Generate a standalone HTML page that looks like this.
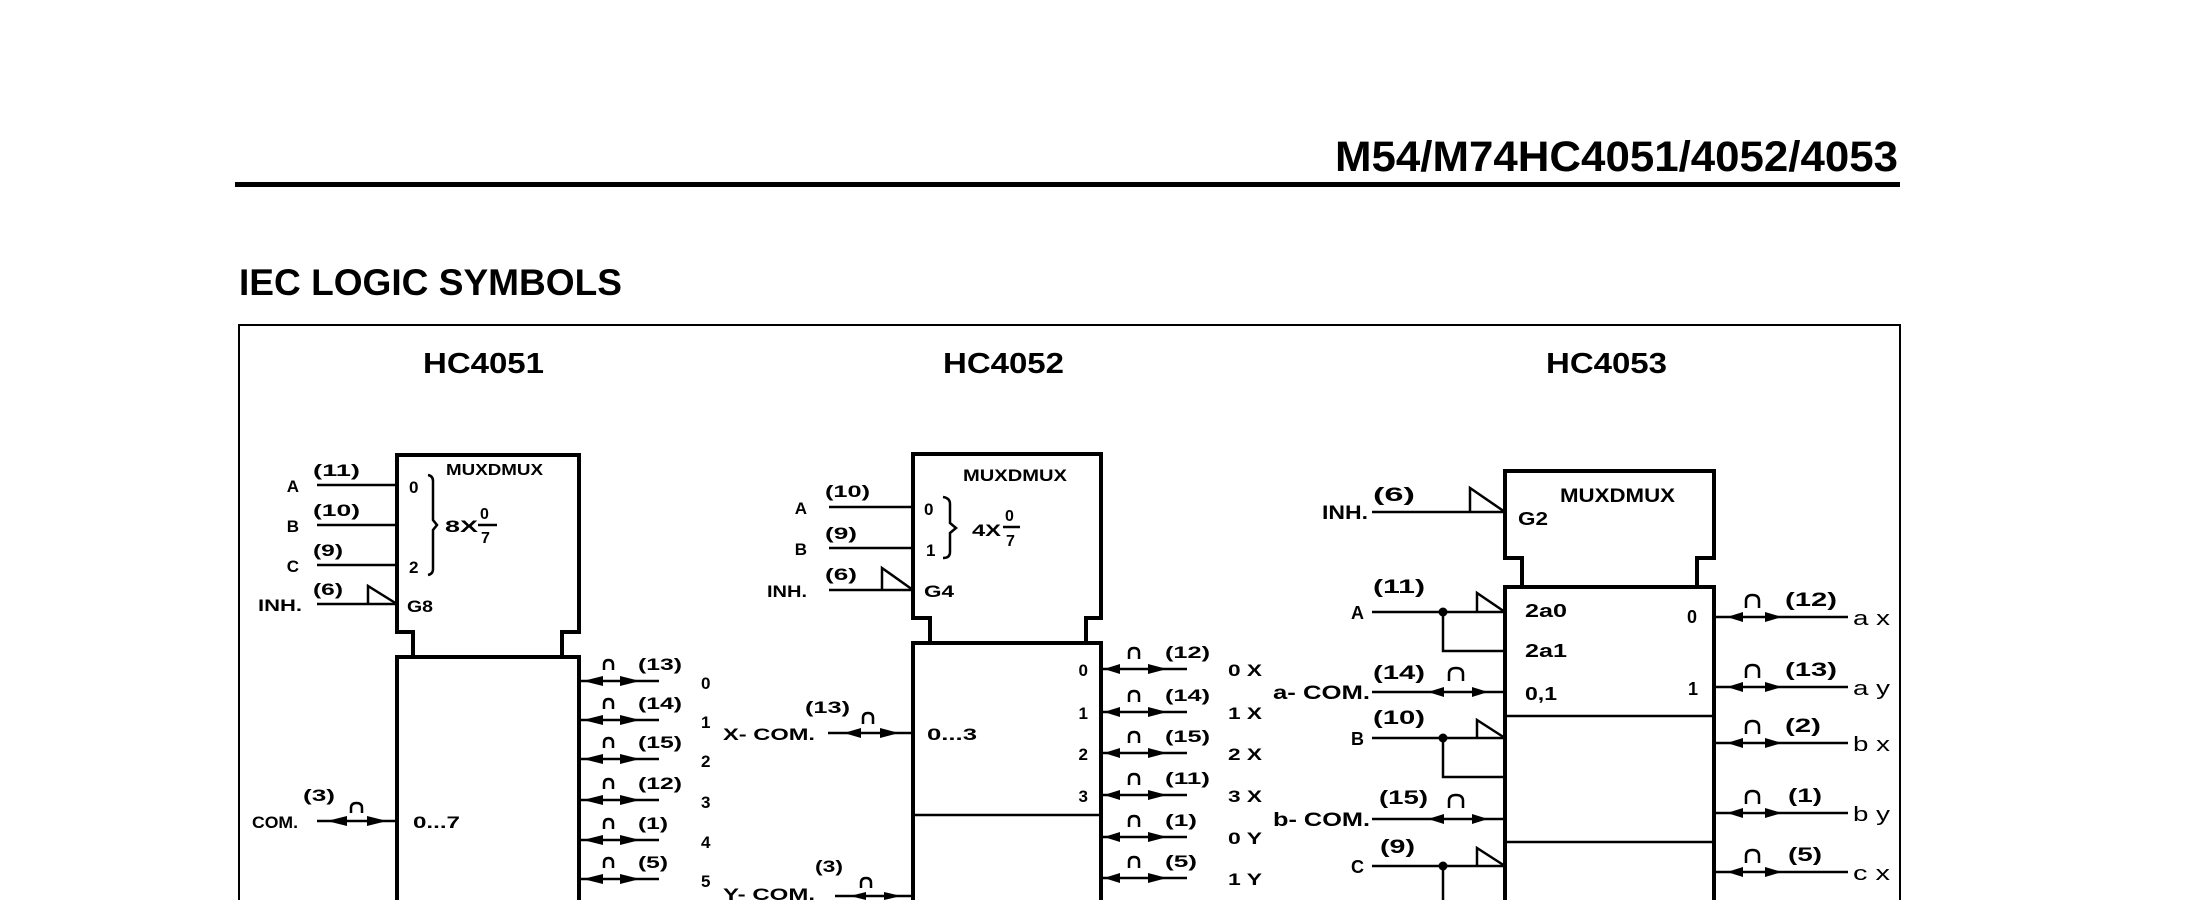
<!DOCTYPE html>
<html><head><meta charset="utf-8"><style>
html,body{margin:0;padding:0;background:#fff;overflow:hidden;width:2210px;height:900px}
svg{display:block}
text{font-family:"Liberation Sans",Arial,sans-serif;fill:#000;font-weight:bold}
.s{fill:none;stroke:#000;stroke-width:2.5}
.bx{fill:none;stroke:#000;stroke-width:4}
.a{fill:#000;stroke:none}
.n{font-weight:normal}
</style></head><body>
<svg width="2210" height="900" viewBox="0 0 2210 900" xmlns="http://www.w3.org/2000/svg">
<rect width="2210" height="900" fill="#fff"/>
<!-- header -->
<text x="1335" y="171" font-size="43" textLength="563" lengthAdjust="spacingAndGlyphs">M54/M74HC4051/4052/4053</text>
<rect x="235" y="182" width="1665" height="5" fill="#000"/>
<text x="239" y="295" font-size="37" textLength="383" lengthAdjust="spacingAndGlyphs">IEC LOGIC SYMBOLS</text>
<path d="M239 900 V325 H1900 V900" fill="none" stroke="#000" stroke-width="2"/>
<text x="423" y="373" font-size="29" textLength="121" lengthAdjust="spacingAndGlyphs">HC4051</text>
<text x="943" y="373" font-size="29" textLength="121" lengthAdjust="spacingAndGlyphs">HC4052</text>
<text x="1546" y="373" font-size="29" textLength="121" lengthAdjust="spacingAndGlyphs">HC4053</text>

<!-- ================= HC4051 ================= -->
<path class="bx" d="M413 657 V632 H397 V455 H579 V632 H562 V657"/>
<path class="bx" d="M397 900 V657 H579 V900"/>
<path class="s" d="M317 485 H397 M317 525 H397 M317 565 H397 M317 604 H397"/>
<path class="s" d="M368 604 V586 L397 604"/>
<text x="299" y="492" font-size="17" text-anchor="end">A</text>
<text x="299" y="532" font-size="17" text-anchor="end">B</text>
<text x="299" y="572" font-size="17" text-anchor="end">C</text>
<text x="258" y="611" font-size="17" textLength="44" lengthAdjust="spacingAndGlyphs">INH.</text>
<text x="313" y="476" font-size="17" textLength="47" lengthAdjust="spacingAndGlyphs">(11)</text>
<text x="313" y="516" font-size="17" textLength="47" lengthAdjust="spacingAndGlyphs">(10)</text>
<text x="313" y="556" font-size="17" textLength="30" lengthAdjust="spacingAndGlyphs">(9)</text>
<text x="313" y="595" font-size="17" textLength="30" lengthAdjust="spacingAndGlyphs">(6)</text>
<text x="409" y="493" font-size="17">0</text>
<text x="409" y="573" font-size="17">2</text>
<text x="407" y="612" font-size="17" textLength="26" lengthAdjust="spacingAndGlyphs">G8</text>
<path class="s" d="M428 475 Q433 476 433 481 V520 L437 525 L433 530 V569 Q433 574 428 575"/>
<text x="445" y="532" font-size="17" textLength="33" lengthAdjust="spacingAndGlyphs">8X</text>
<text x="480" y="519" font-size="16">0</text>
<path class="s" d="M478 525 H497" stroke-width="2"/>
<text x="481" y="543" font-size="16">7</text>
<text x="446" y="475" font-size="16" textLength="97" lengthAdjust="spacingAndGlyphs">MUXDMUX</text>
<text x="413" y="828" font-size="17" textLength="47" lengthAdjust="spacingAndGlyphs">0...7</text>
<path class="s" d="M317 821 H397"/>
<polygon class="a" points="327,821 347,816 347,826"/>
<polygon class="a" points="387,821 367,816 367,826"/>
<text x="252" y="828" font-size="17" textLength="46" lengthAdjust="spacingAndGlyphs">COM.</text>
<text x="303" y="801" font-size="17" textLength="32" lengthAdjust="spacingAndGlyphs">(3)</text>
<path class="s" d="M351 813 V808 Q351 803 356.5 803 Q362 803 362 808 V813"/>
<!-- outputs 4051 -->
<path class="s" d="M579 681 H659 M579 720 H659 M579 759 H659 M579 800 H659 M579 840 H659 M579 879 H659"/>
<polygon class="a" points="583,681 603,676 603,686"/><polygon class="a" points="640,681 620,676 620,686"/>
<polygon class="a" points="583,720 603,715 603,725"/><polygon class="a" points="640,720 620,715 620,725"/>
<polygon class="a" points="583,759 603,754 603,764"/><polygon class="a" points="640,759 620,754 620,764"/>
<polygon class="a" points="583,800 603,795 603,805"/><polygon class="a" points="640,800 620,795 620,805"/>
<polygon class="a" points="583,840 603,835 603,845"/><polygon class="a" points="640,840 620,835 620,845"/>
<polygon class="a" points="583,879 603,874 603,884"/><polygon class="a" points="640,879 620,874 620,884"/>
<path class="s" d="M604 670 V665 Q604 660 608.5 660 Q613 660 613 665 V670"/>
<path class="s" d="M604 709 V704 Q604 699 608.5 699 Q613 699 613 704 V709"/>
<path class="s" d="M604 748 V743 Q604 738 608.5 738 Q613 738 613 743 V748"/>
<path class="s" d="M604 789 V784 Q604 779 608.5 779 Q613 779 613 784 V789"/>
<path class="s" d="M604 829 V824 Q604 819 608.5 819 Q613 819 613 824 V829"/>
<path class="s" d="M604 868 V863 Q604 858 608.5 858 Q613 858 613 863 V868"/>
<text x="638" y="670" font-size="17" textLength="44" lengthAdjust="spacingAndGlyphs">(13)</text>
<text x="638" y="709" font-size="17" textLength="44" lengthAdjust="spacingAndGlyphs">(14)</text>
<text x="638" y="748" font-size="17" textLength="44" lengthAdjust="spacingAndGlyphs">(15)</text>
<text x="638" y="789" font-size="17" textLength="44" lengthAdjust="spacingAndGlyphs">(12)</text>
<text x="638" y="829" font-size="17" textLength="30" lengthAdjust="spacingAndGlyphs">(1)</text>
<text x="638" y="868" font-size="17" textLength="30" lengthAdjust="spacingAndGlyphs">(5)</text>
<text x="701" y="689" font-size="17">0</text>
<text x="701" y="728" font-size="17">1</text>
<text x="701" y="767" font-size="17">2</text>
<text x="701" y="808" font-size="17">3</text>
<text x="701" y="848" font-size="17">4</text>
<text x="701" y="887" font-size="17">5</text>

<!-- ================= HC4052 ================= -->
<path class="bx" d="M930 643 V618 H913 V454 H1101 V618 H1086 V643"/>
<path class="bx" d="M913 900 V643 H1101 V900"/>
<path class="s" d="M913 815 H1101" stroke-width="2"/>
<path class="s" d="M829 507 H913 M829 548 H913 M829 590 H913"/>
<path class="s" d="M882 590 V568 L913 590"/>
<text x="807" y="514" font-size="17" text-anchor="end">A</text>
<text x="807" y="555" font-size="17" text-anchor="end">B</text>
<text x="767" y="597" font-size="17" textLength="40" lengthAdjust="spacingAndGlyphs">INH.</text>
<text x="825" y="497" font-size="17" textLength="45" lengthAdjust="spacingAndGlyphs">(10)</text>
<text x="825" y="539" font-size="17" textLength="32" lengthAdjust="spacingAndGlyphs">(9)</text>
<text x="825" y="580" font-size="17" textLength="32" lengthAdjust="spacingAndGlyphs">(6)</text>
<text x="924" y="515" font-size="17">0</text>
<text x="926" y="556" font-size="17">1</text>
<text x="924" y="597" font-size="17" textLength="30" lengthAdjust="spacingAndGlyphs">G4</text>
<path class="s" d="M943 497 Q950 498 950 504 V523 L956 528 L950 533 V552 Q950 558 943 558"/>
<text x="972" y="536" font-size="17" textLength="29" lengthAdjust="spacingAndGlyphs">4X</text>
<text x="1005" y="521" font-size="16">0</text>
<path class="s" d="M1003 527 H1020" stroke-width="2"/>
<text x="1006" y="546" font-size="16">7</text>
<text x="963" y="481" font-size="17" textLength="104" lengthAdjust="spacingAndGlyphs">MUXDMUX</text>
<!-- X-COM -->
<path class="s" d="M828 733 H913"/>
<polygon class="a" points="844,733 861,728 861,738"/>
<polygon class="a" points="899,733 880,728 880,738"/>
<text x="723" y="740" font-size="17" textLength="92" lengthAdjust="spacingAndGlyphs">X- COM.</text>
<text x="805" y="713" font-size="17" textLength="45" lengthAdjust="spacingAndGlyphs">(13)</text>
<path class="s" d="M863 724 V718 Q863 713 868 713 Q873 713 873 718 V724"/>
<text x="927" y="740" font-size="17" textLength="50" lengthAdjust="spacingAndGlyphs">0...3</text>
<!-- Y-COM -->
<path class="s" d="M835 896 H913"/>
<polygon class="a" points="850,896 866,892 866,900"/>
<polygon class="a" points="901,896 884,892 884,900"/>
<text x="723" y="900" font-size="17" textLength="92" lengthAdjust="spacingAndGlyphs">Y- COM.</text>
<text x="815" y="872" font-size="17" textLength="28" lengthAdjust="spacingAndGlyphs">(3)</text>
<path class="s" d="M861 888 V883 Q861 878 866 878 Q871 878 871 883 V888"/>
<!-- outputs 4052 -->
<path class="s" d="M1101 669 H1187 M1101 712 H1187 M1101 753 H1187 M1101 795 H1187 M1101 837 H1187 M1101 878 H1187"/>
<polygon class="a" points="1104,669 1120,664 1120,674"/><polygon class="a" points="1167,669 1148,664 1148,674"/>
<polygon class="a" points="1104,712 1120,707 1120,717"/><polygon class="a" points="1167,712 1148,707 1148,717"/>
<polygon class="a" points="1104,753 1120,748 1120,758"/><polygon class="a" points="1167,753 1148,748 1148,758"/>
<polygon class="a" points="1104,795 1120,790 1120,800"/><polygon class="a" points="1167,795 1148,790 1148,800"/>
<polygon class="a" points="1104,837 1120,832 1120,842"/><polygon class="a" points="1167,837 1148,832 1148,842"/>
<polygon class="a" points="1104,878 1120,873 1120,883"/><polygon class="a" points="1167,878 1148,873 1148,883"/>
<path class="s" d="M1129 659 V653 Q1129 648 1134 648 Q1139 648 1139 653 V659"/>
<path class="s" d="M1129 702 V696 Q1129 691 1134 691 Q1139 691 1139 696 V702"/>
<path class="s" d="M1129 743 V737 Q1129 732 1134 732 Q1139 732 1139 737 V743"/>
<path class="s" d="M1129 785 V779 Q1129 774 1134 774 Q1139 774 1139 779 V785"/>
<path class="s" d="M1129 827 V821 Q1129 816 1134 816 Q1139 816 1139 821 V827"/>
<path class="s" d="M1129 868 V862 Q1129 857 1134 857 Q1139 857 1139 862 V868"/>
<text x="1165" y="658" font-size="17" textLength="45" lengthAdjust="spacingAndGlyphs">(12)</text>
<text x="1165" y="701" font-size="17" textLength="45" lengthAdjust="spacingAndGlyphs">(14)</text>
<text x="1165" y="742" font-size="17" textLength="45" lengthAdjust="spacingAndGlyphs">(15)</text>
<text x="1165" y="784" font-size="17" textLength="45" lengthAdjust="spacingAndGlyphs">(11)</text>
<text x="1165" y="826" font-size="17" textLength="32" lengthAdjust="spacingAndGlyphs">(1)</text>
<text x="1165" y="867" font-size="17" textLength="32" lengthAdjust="spacingAndGlyphs">(5)</text>
<text x="1088" y="676" font-size="17" text-anchor="end">0</text>
<text x="1088" y="719" font-size="17" text-anchor="end">1</text>
<text x="1088" y="760" font-size="17" text-anchor="end">2</text>
<text x="1088" y="802" font-size="17" text-anchor="end">3</text>
<text x="1228" y="676" font-size="17" textLength="34" lengthAdjust="spacingAndGlyphs">0 X</text>
<text x="1228" y="719" font-size="17" textLength="34" lengthAdjust="spacingAndGlyphs">1 X</text>
<text x="1228" y="760" font-size="17" textLength="34" lengthAdjust="spacingAndGlyphs">2 X</text>
<text x="1228" y="802" font-size="17" textLength="34" lengthAdjust="spacingAndGlyphs">3 X</text>
<text x="1228" y="844" font-size="17" textLength="34" lengthAdjust="spacingAndGlyphs">0 Y</text>
<text x="1228" y="885" font-size="17" textLength="34" lengthAdjust="spacingAndGlyphs">1 Y</text>

<!-- ================= HC4053 ================= -->
<path class="bx" d="M1522 587 V558 H1505 V471 H1714 V558 H1697 V587"/>
<path class="bx" d="M1505 900 V587 H1714 V900"/>
<path class="s" d="M1505 716 H1714 M1505 842 H1714"/>
<!-- INH -->
<path class="s" d="M1372 512 H1505"/>
<path class="s" d="M1470 512 V488 L1505 512"/>
<text x="1322" y="519" font-size="19" textLength="46" lengthAdjust="spacingAndGlyphs">INH.</text>
<text x="1373" y="501" font-size="19" textLength="42" lengthAdjust="spacingAndGlyphs">(6)</text>
<text x="1518" y="525" font-size="18" textLength="30" lengthAdjust="spacingAndGlyphs">G2</text>
<text x="1560" y="502" font-size="19" textLength="115" lengthAdjust="spacingAndGlyphs">MUXDMUX</text>
<!-- A -->
<path class="s" d="M1372 612 H1505 M1443 612 V651 H1505"/>
<circle cx="1443" cy="612" r="4.5" fill="#000"/>
<path class="s" d="M1477 612 V593 L1505 612"/>
<text x="1364" y="619" font-size="18" text-anchor="end">A</text>
<text x="1373" y="593" font-size="19" textLength="52" lengthAdjust="spacingAndGlyphs">(11)</text>
<text x="1525" y="617" font-size="18" textLength="42" lengthAdjust="spacingAndGlyphs">2a0</text>
<text x="1525" y="657" font-size="18" textLength="42" lengthAdjust="spacingAndGlyphs">2a1</text>
<text x="1687" y="623" font-size="18">0</text>
<!-- a-COM -->
<path class="s" d="M1372 692 H1505"/>
<polygon class="a" points="1428,692 1444,687 1444,697"/>
<polygon class="a" points="1488,692 1472,687 1472,697"/>
<text x="1273" y="699" font-size="19" textLength="97" lengthAdjust="spacingAndGlyphs">a- COM.</text>
<text x="1373" y="679" font-size="19" textLength="52" lengthAdjust="spacingAndGlyphs">(14)</text>
<path class="s" d="M1449 681 V674 Q1449 668 1456 668 Q1463 668 1463 674 V681"/>
<text x="1525" y="700" font-size="18" textLength="32" lengthAdjust="spacingAndGlyphs">0,1</text>
<text x="1688" y="695" font-size="18">1</text>
<!-- B -->
<path class="s" d="M1372 738 H1505 M1443 738 V777 H1505"/>
<circle cx="1443" cy="738" r="4.5" fill="#000"/>
<path class="s" d="M1477 738 V720 L1505 738"/>
<text x="1364" y="745" font-size="18" text-anchor="end">B</text>
<text x="1373" y="724" font-size="19" textLength="52" lengthAdjust="spacingAndGlyphs">(10)</text>
<!-- b-COM -->
<path class="s" d="M1372 819 H1505"/>
<polygon class="a" points="1428,819 1444,814 1444,824"/>
<polygon class="a" points="1488,819 1472,814 1472,824"/>
<text x="1273" y="826" font-size="19" textLength="97" lengthAdjust="spacingAndGlyphs">b- COM.</text>
<text x="1379" y="804" font-size="19" textLength="49" lengthAdjust="spacingAndGlyphs">(15)</text>
<path class="s" d="M1449 808 V801 Q1449 795 1456 795 Q1463 795 1463 801 V808"/>
<!-- C -->
<path class="s" d="M1372 866 H1505 M1443 866 V900"/>
<circle cx="1443" cy="866" r="4.5" fill="#000"/>
<path class="s" d="M1477 866 V848 L1505 866"/>
<text x="1364" y="873" font-size="18" text-anchor="end">C</text>
<text x="1380" y="853" font-size="19" textLength="35" lengthAdjust="spacingAndGlyphs">(9)</text>
<!-- outputs 4053 -->
<path class="s" d="M1714 617 H1848 M1714 687 H1848 M1714 743 H1848 M1714 813 H1848 M1714 872 H1848"/>
<polygon class="a" points="1727,617 1743,612 1743,622"/><polygon class="a" points="1782,617 1765,612 1765,622"/>
<polygon class="a" points="1727,687 1743,682 1743,692"/><polygon class="a" points="1782,687 1765,682 1765,692"/>
<polygon class="a" points="1727,743 1743,738 1743,748"/><polygon class="a" points="1782,743 1765,738 1765,748"/>
<polygon class="a" points="1727,813 1743,808 1743,818"/><polygon class="a" points="1782,813 1765,808 1765,818"/>
<polygon class="a" points="1727,872 1743,867 1743,877"/><polygon class="a" points="1782,872 1765,867 1765,877"/>
<path class="s" d="M1746 608 V601 Q1746 595 1752.5 595 Q1759 595 1759 601 V608"/>
<path class="s" d="M1746 678 V671 Q1746 665 1752.5 665 Q1759 665 1759 671 V678"/>
<path class="s" d="M1746 734 V727 Q1746 721 1752.5 721 Q1759 721 1759 727 V734"/>
<path class="s" d="M1746 804 V797 Q1746 791 1752.5 791 Q1759 791 1759 797 V804"/>
<path class="s" d="M1746 863 V856 Q1746 850 1752.5 850 Q1759 850 1759 856 V863"/>
<text x="1785" y="606" font-size="19" textLength="52" lengthAdjust="spacingAndGlyphs">(12)</text>
<text x="1785" y="676" font-size="19" textLength="52" lengthAdjust="spacingAndGlyphs">(13)</text>
<text x="1785" y="732" font-size="19" textLength="36" lengthAdjust="spacingAndGlyphs">(2)</text>
<text x="1788" y="802" font-size="19" textLength="34" lengthAdjust="spacingAndGlyphs">(1)</text>
<text x="1788" y="861" font-size="19" textLength="34" lengthAdjust="spacingAndGlyphs">(5)</text>
<text class="n" x="1853" y="625" font-size="20" textLength="37" lengthAdjust="spacingAndGlyphs">a x</text>
<text class="n" x="1853" y="695" font-size="20" textLength="37" lengthAdjust="spacingAndGlyphs">a y</text>
<text class="n" x="1853" y="751" font-size="20" textLength="37" lengthAdjust="spacingAndGlyphs">b x</text>
<text class="n" x="1853" y="821" font-size="20" textLength="37" lengthAdjust="spacingAndGlyphs">b y</text>
<text class="n" x="1853" y="880" font-size="20" textLength="37" lengthAdjust="spacingAndGlyphs">c x</text>
</svg>
</body></html>
